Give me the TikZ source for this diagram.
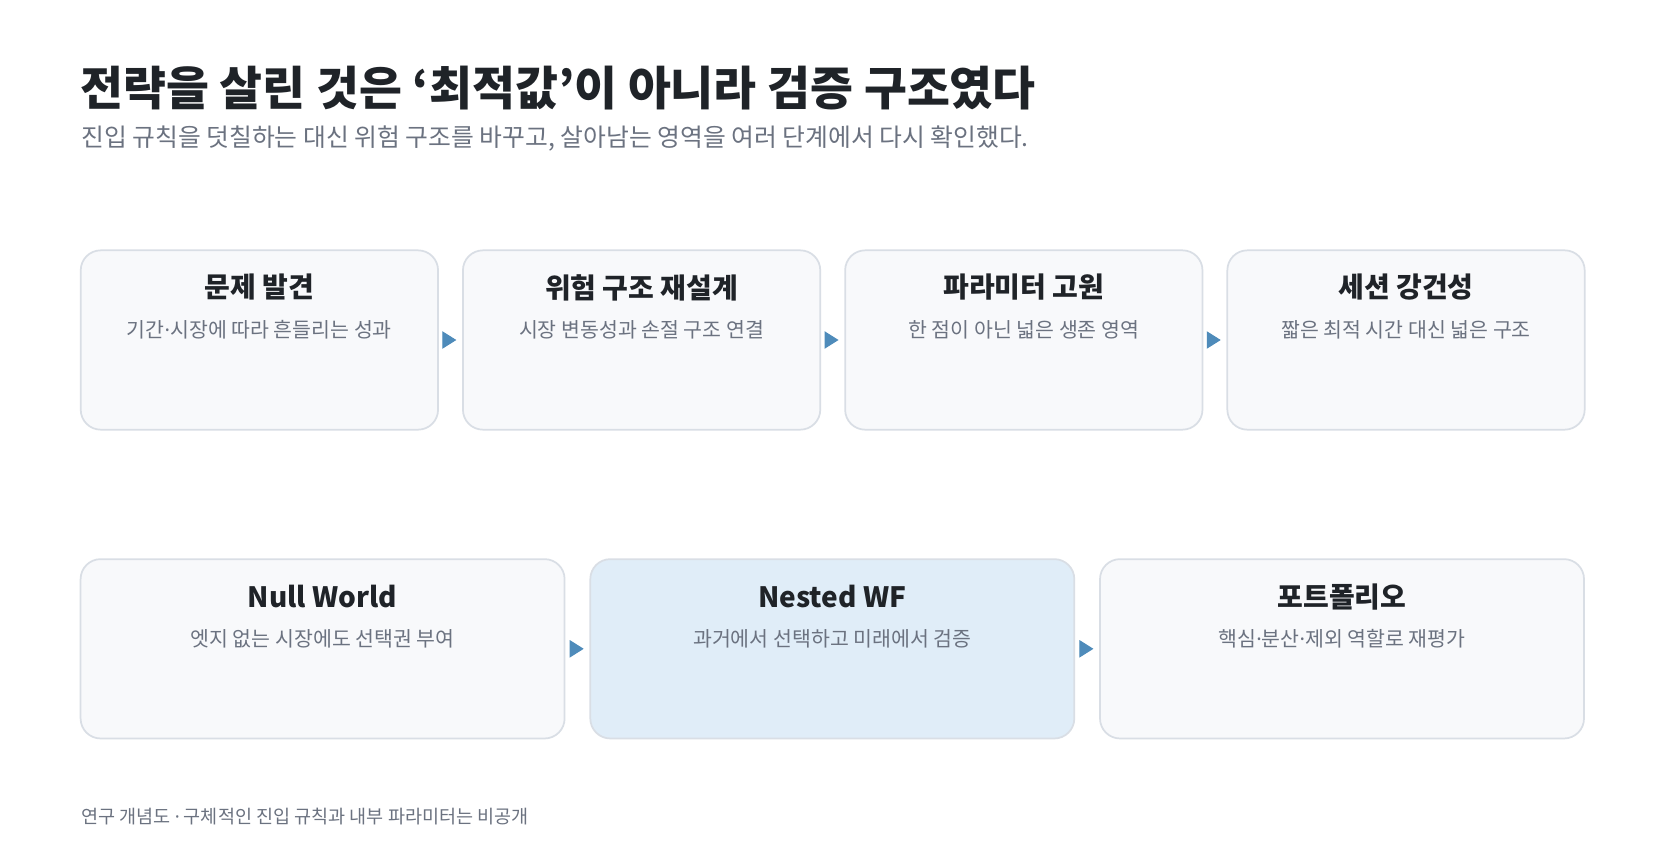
\documentclass[tikz,border=0pt]{standalone}
\usepackage{fontspec}
\setmainfont{Noto Sans CJK KR}
\newfontfamily\latinsans{Noto Sans}
\newcommand{\mdot}{{\latinsans ·}}
\usetikzlibrary{arrows.meta, calc, positioning}
\definecolor{inkdark}{HTML}{1F2328}
\definecolor{inkgray}{HTML}{6B7280}
\definecolor{cardfill}{HTML}{F8F9FB}
\definecolor{cardline}{HTML}{D9DEE5}
\definecolor{cardhi}{HTML}{E0EDF8}
\definecolor{flowblue}{HTML}{4E8BBA}
\tikzset{card/.style={draw=cardline, line width=1.3pt, fill=cardfill, rounded corners=15pt, minimum height=134.5pt, inner sep=0pt}}
\tikzset{cardtitle/.style={font=\fontsize{21}{25}\selectfont\bfseries, text=inkdark, inner sep=0pt}}
\tikzset{cardsub/.style={font=\fontsize{15.4}{18}\selectfont, text=inkgray, inner sep=0pt}}
\tikzset{flow/.style={draw=flowblue, line width=0.8pt, -{Triangle[length=10.5pt, width=13pt]}, shorten <=3.5pt, shorten >=4.3pt}}

\begin{document}
\begin{tikzpicture}[x=0.75pt, y=-0.75pt]
    \fill[white] (0,0) rectangle (1665,867);
    \useasboundingbox (0,0) rectangle (1665,867);
    % heading
    \node[anchor=west, inner sep=0pt, text=inkdark, font=\fontsize{35}{41}\selectfont\bfseries] (head) at (80, 88) {전략을 살린 것은 ‘최적값’이 아니라 검증 구조였다};
    \node[anchor=west, inner sep=0pt, text=inkgray, font=\fontsize{18.6}{22}\selectfont] (lead) at (81, 139) {진입 규칙을 덧칠하는 대신 위험 구조를 바꾸고, 살아남는 영역을 여러 단계에서 다시 확인했다.};
    % first row
    \foreach \i/\ttl/\sub in {1/문제 발견/기간\mdot 시장에 따라 흔들리는 성과, 2/위험 구조 재설계/시장 변동성과 손절 구조 연결, 3/파라미터 고원/한 점이 아닌 넓은 생존 영역, 4/세션 강건성/짧은 최적 시간 대신 넓은 구조} {
        \node[card, minimum width=268pt] (r\i) at ({259.4+382.2*(\i-1)}, 340) {};
        \node[cardtitle] (rt\i) at ($(r\i.north)+(0,38)$) {\ttl};
        \node[cardsub] (rs\i) at ($(r\i.north)+(0,80.5)$) {\sub};
    }
    % second row
    \foreach \i/\ttl/\sub/\bg in {1/Null World/엣지 없는 시장에도 선택권 부여/cardfill, 2/Nested WF/과거에서 선택하고 미래에서 검증/cardhi, 3/포트폴리오/핵심\mdot 분산\mdot 제외 역할로 재평가/cardfill} {
        \node[card, fill=\bg, minimum width=363pt] (n\i) at ({322.6+509.7*(\i-1)}, 648.8) {};
        \node[cardtitle] (nt\i) at ($(n\i.north)+(0,38.5)$) {\ttl};
        \node[cardsub] (ns\i) at ($(n\i.north)+(0,80.5)$) {\sub};
    }
    \foreach \a/\b in {r1/r2, r2/r3, r3/r4, n1/n2, n2/n3} {
        \draw[flow] (\a) -- (\b);
    }
    % footnote
    \node[anchor=west, inner sep=0pt, text=inkgray, font=\fontsize{13.9}{16}\selectfont] (foot) at (81, 817) {연구 개념도 \mdot{} 구체적인 진입 규칙과 내부 파라미터는 비공개};
\end{tikzpicture}
\end{document}
